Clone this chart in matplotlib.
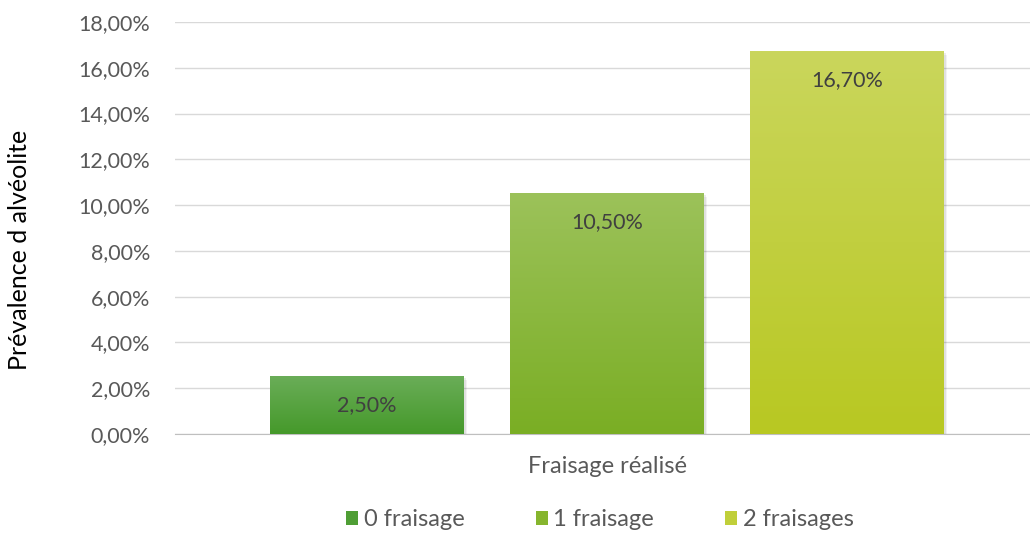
import matplotlib
matplotlib.use("Agg")
import matplotlib.pyplot as plt
import matplotlib.patches as mpatches
import matplotlib.transforms as mtransforms
import numpy as np

series = ["0 fraisage", "1 fraisage", "2 fraisages"]
values = [2.5, 10.5, 16.7]
category = "Fraisage réalisé"
yticks = [0, 2, 4, 6, 8, 10, 12, 14, 16, 18]
top_colors = ["#6aad58", "#9cc25a", "#cad65c"]
bottom_colors = ["#45992a", "#7aae24", "#b8c822"]
legend_colors = ["#4f9e35", "#86b52e", "#c0cf3a"]

plt.rcParams['font.family'] = ['Lato', 'DejaVu Sans']

fig = plt.figure(figsize=(10.30, 5.34), dpi=100)
ax = fig.add_axes([175/1030, 1-434/534, (1030-175)/1030, (434-22)/534])

width = 194/240
xs = np.arange(len(values))

def hex2rgb(h):
    h = h.lstrip('#')
    return np.array([int(h[i:i+2], 16)/255 for i in (0, 2, 4)])

for x, v, tc, bc in zip(xs, values, top_colors, bottom_colors):
    for k, a in [(1.5, 0.07), (3.0, 0.05)]:
        sh = mpatches.Rectangle((x - width/2, 0), width, v, facecolor='#000000', alpha=a,
                                edgecolor='none', zorder=2,
                                transform=mtransforms.offset_copy(ax.transData, fig=fig, x=k, y=-k, units='dots'))
        ax.add_patch(sh)
    t = np.linspace(0, 1, 256)[:, None]
    c1, c2 = hex2rgb(tc), hex2rgb(bc)
    grad = (c1[None, None, :] * (1 - t[..., None]) + c2[None, None, :] * t[..., None])
    grad = np.repeat(grad, 2, axis=1)
    ax.imshow(grad, extent=[x - width/2, x + width/2, 0, v], aspect='auto', zorder=3,
              interpolation='bilinear')
    ax.annotate(f"{v:.2f}%".replace('.', ','), xy=(x, v), xytext=(0, -28),
                textcoords='offset pixels',
                ha='center', va='center', fontsize=15.5, color='#404040', zorder=5)

ax.set_xlim(-0.8, 2 + 183/240)
ax.set_ylim(0, 18)
ax.set_yticks(yticks)
ax.set_yticklabels([f"{y:.2f}%".replace('.', ',') for y in yticks], fontsize=15.5, color='#595959')
ax.set_xticks([1])
ax.set_xticklabels([category], fontsize=17, color='#595959')
ax.tick_params(axis='x', length=0, pad=16)
ax.tick_params(axis='y', length=0, pad=18)
ax.grid(axis='y', color='#d9d9d9', linewidth=1, zorder=0)
ax.set_axisbelow(True)
for s in ['top', 'right', 'left']:
    ax.spines[s].set_visible(False)
ax.spines['bottom'].set_color('#bfbfbf')
ax.spines['bottom'].set_zorder(1)

fig.text(20/1030, 1-250/534, "Prévalence d alvéolite", rotation=90, ha='center', va='center',
         fontsize=18, color='#000000')

handles = [mpatches.Patch(facecolor=c, edgecolor='none') for c in legend_colors]
fig.legend(handles, series, loc='center', bbox_to_anchor=(600/1030, 1-520/534), ncol=3,
           frameon=False, fontsize=17, handlelength=0.5, handleheight=0.5,
           columnspacing=3.0, handletextpad=0.25, labelcolor='#595959')

fig.savefig("out.png", dpi=100)
